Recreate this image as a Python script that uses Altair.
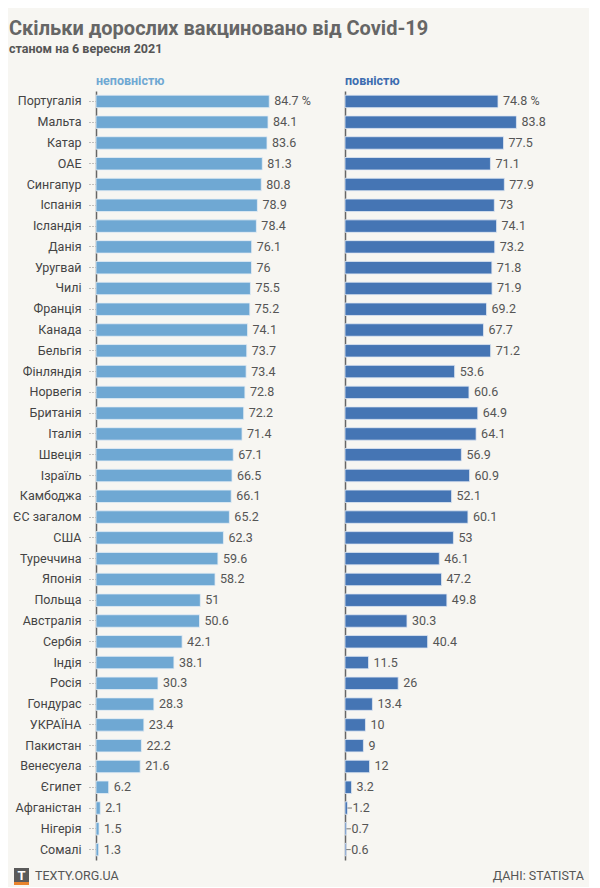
import altair as alt
import pandas as pd

countries = ["Португалія", "Мальта", "Катар", "ОАЕ", "Сингапур", "Іспанія", "Ісландія",
             "Данія", "Уругвай", "Чилі", "Франція", "Канада", "Бельгія", "Фінляндія",
             "Норвегія", "Британія", "Італія", "Швеція", "Ізраїль", "Камбоджа",
             "ЄС загалом", "США", "Туреччина", "Японія", "Польща", "Австралія", "Сербія",
             "Індія", "Росія", "Гондурас", "УКРАЇНА", "Пакистан", "Венесуела", "Єгипет",
             "Афганістан", "Нігерія", "Сомалі"]
partial = [84.7, 84.1, 83.6, 81.3, 80.8, 78.9, 78.4, 76.1, 76, 75.5, 75.2, 74.1, 73.7,
           73.4, 72.8, 72.2, 71.4, 67.1, 66.5, 66.1, 65.2, 62.3, 59.6, 58.2, 51, 50.6,
           42.1, 38.1, 30.3, 28.3, 23.4, 22.2, 21.6, 6.2, 2.1, 1.5, 1.3]
full = [74.8, 83.8, 77.5, 71.1, 77.9, 73, 74.1, 73.2, 71.8, 71.9, 69.2, 67.7, 71.2,
        53.6, 60.6, 64.9, 64.1, 56.9, 60.9, 52.1, 60.1, 53, 46.1, 47.2, 49.8, 30.3,
        40.4, 11.5, 26, 13.4, 10, 9, 12, 3.2, 1.2, 0.7, 0.6]

def fmt(v, i):
    s = f"{v:g}"
    return s + " %" if i == 0 else s

df = pd.DataFrame({
    "country": countries,
    "partial": partial,
    "full": full,
    "plabel": [fmt(v, i) for i, v in enumerate(partial)],
    "flabel": [fmt(v, i) for i, v in enumerate(full)],
})

FONT = "Roboto"
W, H = 225, 769
yscale = alt.Scale(paddingInner=0.4, paddingOuter=0.2)
xscale = alt.Scale(domain=[0, 110])

left_axis = alt.Axis(title=None, labelFont=FONT, labelFontSize=12.5, labelColor="#444",
                     labelPadding=8, tickSize=7, tickDash=[1, 2], tickColor="#888",
                     domainColor="#666", domainWidth=1.5, minExtent=88, maxExtent=88,
                     labelLimit=100)
right_axis = alt.Axis(title=None, labels=False, ticks=False, domainColor="#666",
                      domainWidth=1.5, minExtent=0, maxExtent=0)

lbase = alt.Chart(df).encode(y=alt.Y("country:N", sort=countries, scale=yscale, axis=left_axis))
lbars = lbase.mark_bar(color="#6fa8d3", stroke="#e4edf5", strokeWidth=0.8).encode(
    x=alt.X("partial:Q", scale=xscale, axis=None))
ltext = lbase.mark_text(align="left", dx=5, font=FONT, fontSize=12.5, color="#555").encode(
    x=alt.X("partial:Q", scale=xscale), text="plabel:N")

footer_df = pd.DataFrame({"t": ["TEXTY.ORG.UA"]})
logo_box = alt.Chart(footer_df).mark_rect(color="#5a5a5a").encode(
    x=alt.value(-82), x2=alt.value(-67), y=alt.value(H + 8), y2=alt.value(H + 22))
logo_bar = alt.Chart(footer_df).mark_rect(color="#e8842c").encode(
    x=alt.value(-82), x2=alt.value(-67), y=alt.value(H + 22), y2=alt.value(H + 25))
logo_t = alt.Chart(footer_df).mark_text(text="T", color="white", font=FONT,
                                        fontWeight="bold", fontSize=13).encode(
    x=alt.value(-74.5), y=alt.value(H + 15.5))
foot_l = alt.Chart(footer_df).mark_text(align="left", font=FONT, fontSize=12.5,
                                        color="#555").encode(
    x=alt.value(-61), y=alt.value(H + 16), text="t:N")

left = alt.layer(lbars, ltext, logo_box, logo_bar, logo_t, foot_l).properties(
    width=W, height=H,
    title=alt.TitleParams("неповністю", anchor="start", frame="group", font=FONT,
                          fontSize=12.5, fontWeight="bold", color="#6fa8d3", offset=4))

rbase = alt.Chart(df).encode(y=alt.Y("country:N", sort=countries, scale=yscale, axis=right_axis))
rbars = rbase.mark_bar(color="#4575b4", stroke="#dfe7f2", strokeWidth=0.8).encode(
    x=alt.X("full:Q", scale=xscale, axis=None))
rlead = rbase.transform_filter("datum.full < 2").transform_calculate(
    lead_end="datum.full + 2.2").mark_rule(color="#777", strokeWidth=1).encode(
    x=alt.X("full:Q", scale=xscale), x2="lead_end:Q")
rtext = rbase.mark_text(align="left", dx=5, font=FONT, fontSize=12.5, color="#555").encode(
    x=alt.X("full:Q", scale=xscale), text="flabel:N")
src_df = pd.DataFrame({"t": ["ДАНІ: STATISTA"]})
foot_r = alt.Chart(src_df).mark_text(align="right", font=FONT, fontSize=12.5,
                                     color="#555").encode(
    x=alt.value(239), y=alt.value(H + 16), text="t:N")

right = alt.layer(rbars, rlead, rtext, foot_r).properties(
    width=W, height=H,
    title=alt.TitleParams("повністю", anchor="start", frame="group", font=FONT,
                          fontSize=12.5, fontWeight="bold", color="#3d6db0", offset=4))

chart = alt.hconcat(left, right, spacing=23).properties(
    title=alt.TitleParams(
        "Скільки дорослих вакциновано від Covid-19",
        subtitle="станом на 6 вересня 2021",
        anchor="start", font=FONT, fontSize=20, fontWeight="bold", color="#666",
        subtitleFont=FONT, subtitleFontSize=12.5, subtitleFontWeight="bold",
        subtitleColor="#555", subtitlePadding=4, offset=19, dx=1),
    padding={"left": 0, "top": 11, "right": 5, "bottom": 2},
    background="#f7f6f2",
).configure_view(stroke=None)

chart.save("out.html", embed_options={"renderer": "svg", "actions": False})
